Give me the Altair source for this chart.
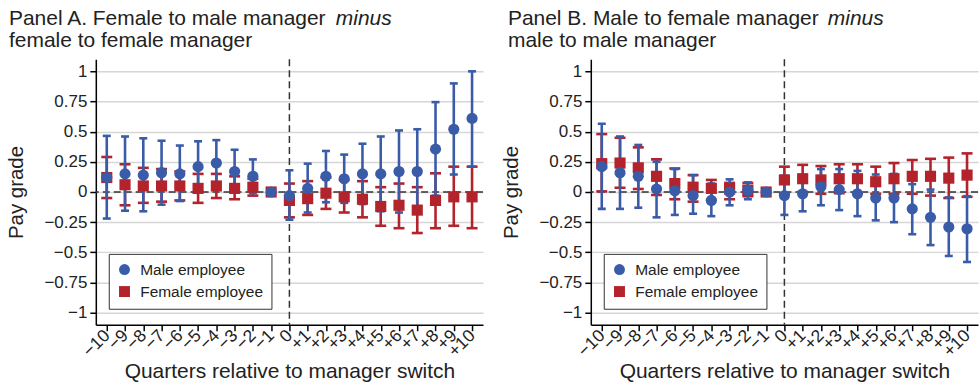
import altair as alt
import pandas as pd

quarters = list(range(-10, 11))

# Panel A
a_male_est = [0.12, 0.15, 0.14, 0.16, 0.15, 0.21, 0.24, 0.17, 0.13, 0.0,
              -0.03, 0.03, 0.13, 0.11, 0.15, 0.15, 0.17, 0.17, 0.355, 0.52, 0.61]
a_male_lo = [-0.22, -0.155, -0.16, -0.105, -0.075, 0.0, 0.05, 0.0, -0.01, None,
             -0.23, -0.17, -0.085, -0.09, -0.10, -0.16, -0.17, -0.18, -0.03, 0.145, 0.21]
a_male_hi = [0.465, 0.46, 0.445, 0.425, 0.385, 0.42, 0.43, 0.35, 0.27, None,
             0.18, 0.235, 0.34, 0.31, 0.40, 0.46, 0.51, 0.52, 0.745, 0.90, 1.0]
a_fem_est = [0.12, 0.06, 0.05, 0.05, 0.05, 0.03, 0.05, 0.03, 0.04, 0.0,
             -0.07, -0.055, -0.01, -0.04, -0.06, -0.12, -0.11, -0.15, -0.07, -0.04, -0.04]
a_fem_lo = [-0.05, -0.11, -0.09, -0.08, -0.07, -0.09, -0.05, -0.06, -0.03, None,
            -0.21, -0.19, -0.14, -0.17, -0.21, -0.28, -0.30, -0.34, -0.30, -0.28, -0.30]
a_fem_hi = [0.29, 0.23, 0.20, 0.19, 0.17, 0.15, 0.15, 0.13, 0.11, None,
            0.07, 0.09, 0.12, 0.10, 0.09, 0.04, 0.07, 0.04, 0.155, 0.21, 0.21]

# Panel B
b_male_est = [0.21, 0.16, 0.13, 0.025, 0.01, -0.03, -0.07, 0.0, 0.015, 0.0,
              -0.03, -0.015, 0.045, 0.02, -0.015, -0.05, -0.05, -0.14, -0.21, -0.29, -0.305]
b_male_lo = [-0.14, -0.14, -0.13, -0.21, -0.19, -0.18, -0.20, -0.11, -0.06, None,
             -0.19, -0.16, -0.11, -0.15, -0.20, -0.235, -0.25, -0.35, -0.44, -0.53, -0.58]
b_male_hi = [0.565, 0.46, 0.39, 0.25, 0.19, 0.14, 0.07, 0.105, 0.08, None,
             0.135, 0.135, 0.19, 0.19, 0.175, 0.145, 0.15, 0.065, 0.02, -0.045, -0.035]
b_fem_est = [0.235, 0.24, 0.20, 0.13, 0.07, 0.04, 0.03, 0.025, 0.015, 0.0,
             0.10, 0.11, 0.10, 0.11, 0.11, 0.085, 0.11, 0.13, 0.13, 0.115, 0.14]
b_fem_lo = [0.005, 0.035, 0.025, -0.025, -0.06, -0.08, -0.065, -0.06, -0.035, None,
            -0.015, 0.0, -0.015, -0.01, -0.01, -0.015, -0.015, -0.015, -0.03, -0.05, -0.04]
b_fem_hi = [0.48, 0.45, 0.37, 0.27, 0.195, 0.14, 0.10, 0.075, 0.075, None,
            0.21, 0.225, 0.215, 0.23, 0.23, 0.21, 0.24, 0.265, 0.275, 0.285, 0.32]

MALE = "Male employee"
FEMALE = "Female employee"
BLUE = "#3a5ca8"
RED = "#b2232c"
FONT = "Liberation Sans"
TXT = "#222222"
TFS = 21

y_values = [-1, -0.75, -0.5, -0.25, 0, 0.25, 0.5, 0.75, 1]


def make_df(m_est, m_lo, m_hi, f_est, f_lo, f_hi):
    rows = []
    for i, q in enumerate(quarters):
        rows.append({"q": q, "series": FEMALE, "est": f_est[i], "lo": f_lo[i], "hi": f_hi[i]})
    for i, q in enumerate(quarters):
        rows.append({"q": q, "series": MALE, "est": m_est[i], "lo": m_lo[i], "hi": m_hi[i]})
    return pd.DataFrame(rows)


x_axis = alt.Axis(
    values=quarters,
    labelExpr="datum.value < 0 ? '\u2212' + (-datum.value) : (datum.value > 0 ? '+' + datum.value : '0')",
    labelAngle=315, labelAlign="right", labelBaseline="middle", labelFontSize=17.5,
    labelPadding=2, labelOverlap=False, labelBound=False, tickSize=6, grid=False,
    title="Quarters relative to manager switch", titleFontSize=21, titlePadding=1,
)
y_axis = alt.Axis(
    values=y_values,
    labelExpr="datum.value < 0 ? '\u2212' + format(-datum.value, '~g') : format(datum.value, '~g')",
    labelFontSize=17, labelPadding=3, labelOverlap=False, tickSize=6, grid=True, title="Pay grade",
    titleFontSize=20.5, titlePadding=17,
)
x_scale = alt.Scale(domain=[-10.6, 10.6], nice=False, zero=False)
y_scale = alt.Scale(domain=[-1.1, 1.1], nice=False, zero=False)


def xe():
    return alt.X("q:Q", scale=x_scale, axis=x_axis, title="Quarters relative to manager switch")


def ye(field):
    return alt.Y(f"{field}:Q", scale=y_scale, axis=y_axis, title="Pay grade")


def panel(df, line1, line2, x0):
    base = alt.Chart(df)
    layers = []
    one = pd.DataFrame({"z": [0]})
    layers.append(
        alt.Chart(one).mark_rule(color="#333333", strokeDash=[7, 4], strokeWidth=1.5)
        .encode(y=alt.Y("z:Q", scale=y_scale, axis=y_axis, title="Pay grade"))
    )
    layers.append(
        alt.Chart(one).mark_rule(color="#333333", strokeDash=[7, 4], strokeWidth=1.5)
        .encode(x=alt.X("z:Q", scale=x_scale, axis=x_axis, title="Quarters relative to manager switch"))
    )
    for s, col, cap in [(FEMALE, RED, 11), (MALE, BLUE, 8)]:
        sub = base.transform_filter(alt.datum.series == s)
        layers.append(sub.mark_rule(color=col, strokeWidth=2.6).encode(x=xe(), y=ye("lo"), y2="hi:Q"))
        layers.append(sub.mark_tick(color=col, orient="horizontal", size=cap, thickness=2.6, opacity=1).encode(x=xe(), y=ye("lo")))
        layers.append(sub.mark_tick(color=col, orient="horizontal", size=cap, thickness=2.6, opacity=1).encode(x=xe(), y=ye("hi")))
    leg = alt.Legend(
        orient="none", legendX=13, legendY=195, title=None, labelFontSize=15.5,
        labelColor=TXT, symbolSize=120, strokeColor="#333333", fillColor="white",
        padding=8, rowPadding=5, labelOffset=8, symbolStrokeWidth=0,
    )
    layers.append(
        base.mark_point(filled=True, size=125, opacity=1).encode(
            x=xe(), y=ye("est"),
            color=alt.Color("series:N", scale=alt.Scale(domain=[MALE, FEMALE], range=[BLUE, RED]), legend=leg),
            shape=alt.Shape("series:N", scale=alt.Scale(domain=[MALE, FEMALE], range=["circle", "square"]), legend=leg),
        )
    )
    # width of line1 + space in Arial-metric em units (Liberation Sans)
    em = {"Panel A. Female to male manager": 15.451, "Panel B. Male to female manager": 15.118}[line1]
    italic_x = x0 + em * TFS + 3
    t1 = pd.DataFrame({"t": [line1]})
    t2 = pd.DataFrame({"t": [line2]})
    t3 = pd.DataFrame({"t": ["minus"]})
    layers.append(alt.Chart(t1).mark_text(align="left", baseline="alphabetic", fontSize=TFS, color=TXT)
                  .encode(text="t:N", x=alt.value(x0), y=alt.value(-34)))
    layers.append(alt.Chart(t3).mark_text(align="left", baseline="alphabetic", fontSize=TFS, fontStyle="italic", color=TXT)
                  .encode(text="t:N", x=alt.value(italic_x), y=alt.value(-34)))
    layers.append(alt.Chart(t2).mark_text(align="left", baseline="alphabetic", fontSize=TFS, color=TXT)
                  .encode(text="t:N", x=alt.value(x0), y=alt.value(-12)))
    return alt.layer(*layers).properties(width=388, height=266)


pa = panel(make_df(a_male_est, a_male_lo, a_male_hi, a_fem_est, a_fem_lo, a_fem_hi),
           "Panel A. Female to male manager", "female to female manager", -87)
pb = panel(make_df(b_male_est, b_male_lo, b_male_hi, b_fem_est, b_fem_lo, b_fem_hi),
           "Panel B. Male to female manager", "male to male manager", -83)

chart = (
    alt.hconcat(pa, pb, spacing=108, bounds="flush")
    .resolve_legend(color="independent", shape="independent")
    .properties(padding={"left": 6, "top": 8, "right": 0, "bottom": 0})
    .configure(font=FONT)
    .configure_axis(labelFont=FONT, titleFont=FONT, labelColor=TXT, titleColor=TXT,
                    domainColor="black", tickColor="black", domainWidth=1.5, tickWidth=1.5,
                    gridColor="#d6d6d6", gridWidth=1.5, titleFontWeight="normal")
    .configure_legend(labelFont=FONT)
    .configure_view(stroke=None)
)

chart.save("out.html", embed_options={"renderer": "svg", "actions": False})
